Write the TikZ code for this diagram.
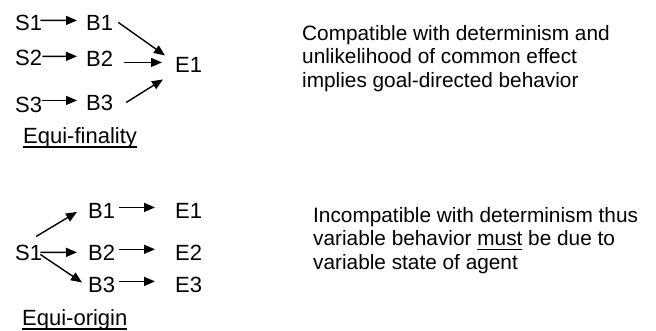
\documentclass[tikz,border=0pt]{standalone}
\usepackage{fontspec}
\setmainfont{Liberation Sans}
\newsavebox{\myulbox}
\newcommand{\myul}[1]{\sbox{\myulbox}{#1}\rlap{\vrule height -3pt depth 4.6pt width \wd\myulbox}\usebox{\myulbox}}
\usetikzlibrary{arrows.meta,calc}
\begin{document}
\begin{tikzpicture}[x=1pt,y=-1pt,
  lbl/.style={anchor=base west,inner sep=0pt,font=\fontsize{22}{24}\selectfont},
  txt/.style={anchor=base west,inner sep=0pt,font=\fontsize{20.8}{23.5}\selectfont},
  arr/.style={line width=1.4pt,-{Triangle[length=11pt,width=9pt]}}]
\useasboundingbox (0,0) rectangle (656,330);
% ---------- top diagram ----------
\node[lbl] (S1) at (15,30) {S1};
\node[lbl] (S2) at (15,65) {S2};
\node[lbl] (S3) at (15,112) {S3};
\node[lbl] (B1) at (86,30) {B1};
\node[lbl] (B2) at (86,66) {B2};
\node[lbl] (B3) at (86,110) {B3};
\node[lbl] (E1) at (175,72) {E1};
\draw[arr] ($(S1.east)+(-2,-2)$) -- ($(B1.west)+(-9,-2)$);
\draw[arr] ($(S2.east)+(0,-1)$) -- ($(B2.west)+(-9,-2)$);
\draw[arr] ($(S3.east)+(0,-4)$) -- ($(B3.west)+(-9,-2)$);
\draw[arr] ($(B1.east)+(5,0)$) -- ($(E1.west)+(-10,-9)$);
\draw[arr] ($(B2.east |- E1.west)+(11,-2)$) -- ($(E1.west)+(-13,-2)$);
\draw[arr] ($(B3.east)+(13,0)$) -- ($(E1.west)+(-12,15)$);
\node[lbl] (EF) at (23,143) {\myul{Equi-finality}};
% ---------- bottom diagram ----------
\node[lbl] (S1b) at (15,260) {S1};
\node[lbl] (B1b) at (88,218) {B1};
\node[lbl] (B2b) at (88,260) {B2};
\node[lbl] (B3b) at (88,292) {B3};
\node[lbl] (E1b) at (175,218) {E1};
\node[lbl] (E2b) at (175,260) {E2};
\node[lbl] (E3b) at (175,292) {E3};
\draw[arr] ($(S1b.north)+(7.5,-8)$) -- ($(B1b.west)+(-11,1.5)$);
\draw[arr] ($(S1b.east)+(-2,0)$) -- ($(B2b.west)+(-11,0)$);
\draw[arr] ($(S1b.east)+(-2,2)$) -- ($(B3b.west)+(-6,-2)$);
\draw[arr] ($(B1b.east)+(4,-3)$) -- ($(E1b.west)+(-20,-3)$);
\draw[arr] ($(B2b.east)+(4,-3)$) -- ($(E2b.west)+(-20,-3)$);
\draw[arr] ($(B3b.east)+(4,-3)$) -- ($(E3b.west)+(-20,-3)$);
\node[lbl] (EO) at (22,325) {\myul{Equi-origin}};
% ---------- texts ----------
\node[txt] (ta) at (302,40) {Compatible with determinism and};
\node[txt] (tb) at (302,63.5) {unlikelihood of common effect};
\node[txt] (tc) at (302,87) {implies goal-directed behavior};
\node[txt] (ua) at (313,222) {Incompatible with determinism thus};
\node[txt] (ub) at (313,245.5) {variable behavior \myul{must} be due to};
\node[txt] (uc) at (313,269) {variable state of agent};
\end{tikzpicture}
\end{document}
